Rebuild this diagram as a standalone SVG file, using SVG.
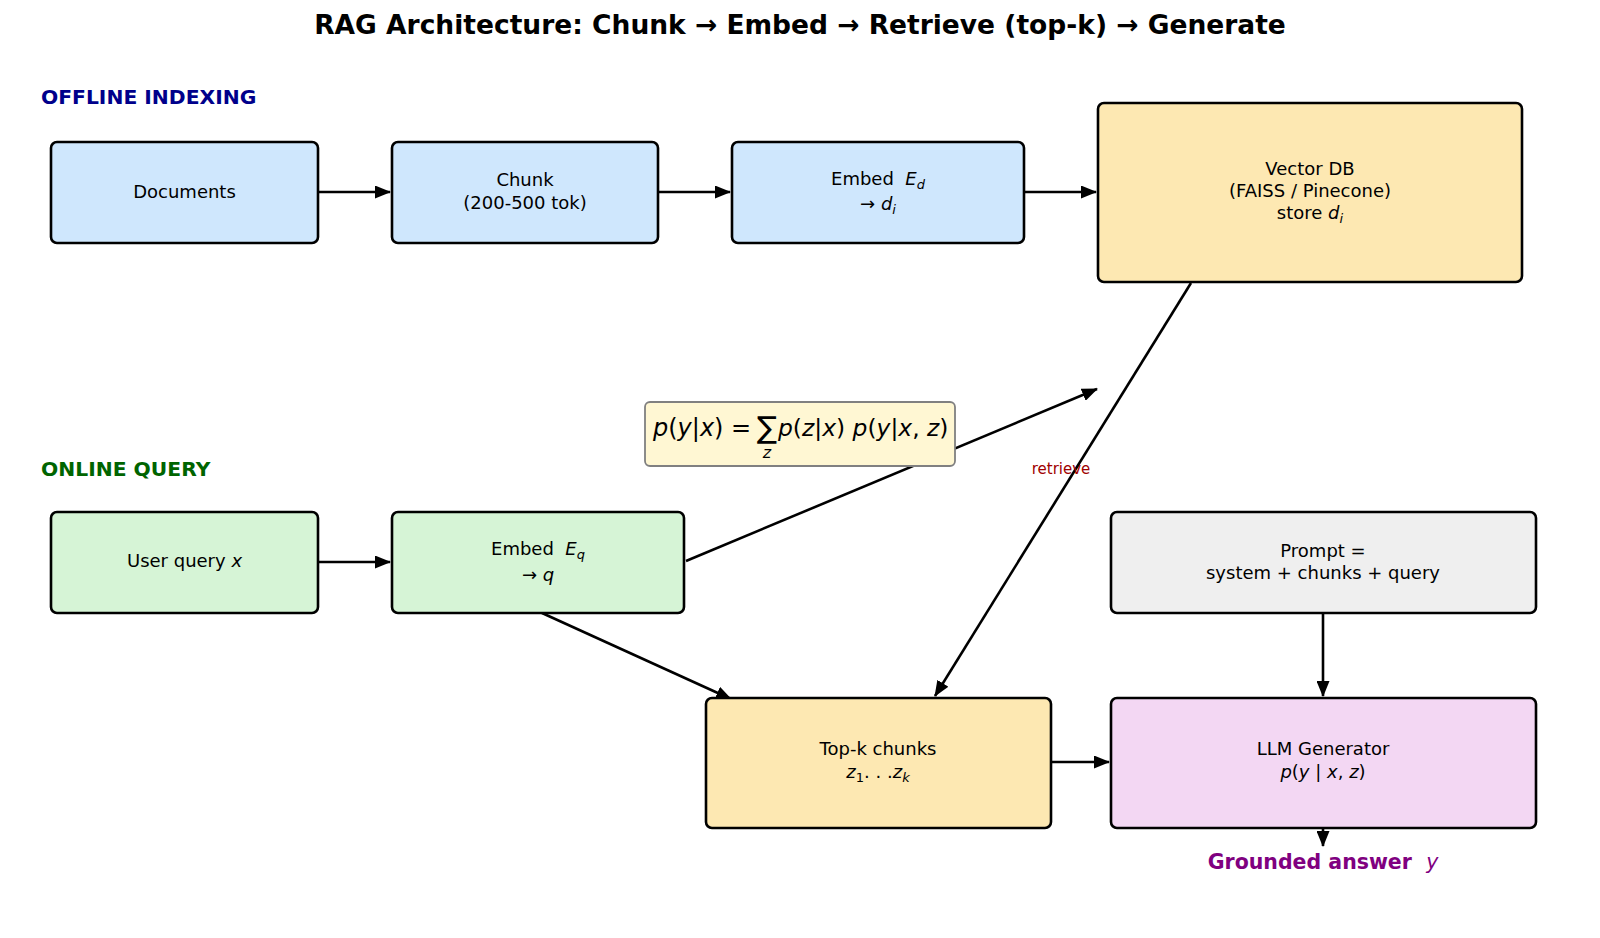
<svg xmlns="http://www.w3.org/2000/svg" width="1600" height="938" viewBox="0 0 1600 938">
<style>
text{font-family:"DejaVu Sans",sans-serif;fill:#000}
.t{font-size:18px;text-anchor:middle}
.i{font-style:italic}
.box{stroke:#000;stroke-width:2.6}
.edge{stroke:#000;stroke-width:2.6;fill:none}
.blue{fill:#cfe7fd}
.green{fill:#d6f4d6}
.yel{fill:#fde8b2}
.gray{fill:#efefef}
.pink{fill:#f3d7f3}
</style>
<defs>
<marker id="ah" markerUnits="userSpaceOnUse" markerWidth="16" markerHeight="13" refX="15" refY="6.5" orient="auto">
<path d="M0,0 L16,6.5 L0,13 z" fill="#000"/>
</marker>
</defs>
<rect width="1600" height="938" fill="#fff"/>
<text x="800" y="34" style="font-size:26.5px;font-weight:bold;text-anchor:middle">RAG Architecture: Chunk → Embed → Retrieve (top-k) → Generate</text>
<text x="41" y="104" style="font-size:20.3px;font-weight:bold;fill:#00008b">OFFLINE INDEXING</text>
<text x="41" y="476" style="font-size:20.3px;font-weight:bold;fill:#006400">ONLINE QUERY</text>

<g id="connectors">
<line class="edge" x1="318" y1="192" x2="390" y2="192" marker-end="url(#ah)"/>
<line class="edge" x1="658" y1="192" x2="730" y2="192" marker-end="url(#ah)"/>
<line class="edge" x1="1024" y1="192" x2="1096" y2="192" marker-end="url(#ah)"/>
<line class="edge" x1="318" y1="562" x2="390" y2="562" marker-end="url(#ah)"/>
<line class="edge" x1="542" y1="613" x2="731" y2="699" marker-end="url(#ah)"/>
<line class="edge" x1="686" y1="561" x2="1097" y2="389" marker-end="url(#ah)"/>
<line class="edge" x1="1191" y1="283" x2="935" y2="696" marker-end="url(#ah)"/>
<line class="edge" x1="1051" y1="762" x2="1109" y2="762" marker-end="url(#ah)"/>
<line class="edge" x1="1323" y1="613" x2="1323" y2="696" marker-end="url(#ah)"/>
<line class="edge" x1="1323" y1="828" x2="1323" y2="846" marker-end="url(#ah)"/>
<text x="1061" y="474" style="font-size:15px;fill:#a00000;text-anchor:middle">retrieve</text>
</g>

<g id="documents">
<rect class="box blue" x="51" y="142" width="267" height="101" rx="6"/>
<text class="t" x="184.5" y="198">Documents</text>
</g>
<g id="chunk">
<rect class="box blue" x="392" y="142" width="266" height="101" rx="6"/>
<text class="t" x="525" y="186">Chunk</text>
<text class="t" x="525" y="209">(200-500 tok)</text>
</g>
<g id="embed_d">
<rect class="box blue" x="732" y="142" width="292" height="101" rx="6"/>
<text class="t" x="878" y="185">Embed&#160; <tspan class="i">E</tspan><tspan class="i" style="font-size:13px" dy="4">d</tspan></text>
<text class="t" x="878" y="210">→ <tspan class="i">d</tspan><tspan class="i" style="font-size:13px" dy="4">i</tspan></text>
</g>
<g id="vectordb">
<rect class="box yel" x="1098" y="103" width="424" height="179" rx="6"/>
<text class="t" x="1310" y="175">Vector DB</text>
<text class="t" x="1310" y="197">(FAISS / Pinecone)</text>
<text class="t" x="1310" y="219">store <tspan class="i">d</tspan><tspan class="i" style="font-size:13px" dy="4">i</tspan></text>
</g>
<g id="formula">
<rect x="645" y="402" width="310" height="64" rx="5" fill="#fff7d3" stroke="#808080" stroke-width="1.8"/>
<text x="653" y="436" style="font-size:24px"><tspan class="i">p</tspan>(<tspan class="i">y</tspan>|<tspan class="i">x</tspan>) = </text>
<text x="767" y="438" style="font-size:30px;text-anchor:middle">∑</text>
<text x="767" y="458" class="i" style="font-size:16px;text-anchor:middle">z</text>
<text x="778" y="436" style="font-size:23.4px"><tspan class="i">p</tspan>(<tspan class="i">z</tspan>|<tspan class="i">x</tspan>) <tspan class="i">p</tspan>(<tspan class="i">y</tspan>|<tspan class="i">x</tspan>, <tspan class="i">z</tspan>)</text>
</g>
<g id="userquery">
<rect class="box green" x="51" y="512" width="267" height="101" rx="6"/>
<text class="t" x="184.5" y="567">User query <tspan class="i">x</tspan></text>
</g>
<g id="embed_q">
<rect class="box green" x="392" y="512" width="292" height="101" rx="6"/>
<text class="t" x="538" y="555">Embed&#160; <tspan class="i">E</tspan><tspan class="i" style="font-size:13px" dy="4">q</tspan></text>
<text class="t" x="538" y="581">→ <tspan class="i">q</tspan></text>
</g>
<g id="prompt">
<rect class="box gray" x="1111" y="512" width="425" height="101" rx="6"/>
<text class="t" x="1323" y="557">Prompt =</text>
<text class="t" x="1323" y="579">system + chunks + query</text>
</g>
<g id="topk">
<rect class="box yel" x="706" y="698" width="345" height="130" rx="6"/>
<text class="t" x="878" y="755">Top-k chunks</text>
<text class="t" x="878" y="778"><tspan class="i">z</tspan><tspan style="font-size:13px" dy="4">1</tspan><tspan dy="-4">. . .</tspan><tspan class="i">z</tspan><tspan class="i" style="font-size:13px" dy="4">k</tspan></text>
</g>
<g id="llm">
<rect class="box pink" x="1111" y="698" width="425" height="130" rx="6"/>
<text class="t" x="1323" y="755">LLM Generator</text>
<text class="t" x="1323" y="778"><tspan class="i">p</tspan>(<tspan class="i">y</tspan> | <tspan class="i">x</tspan>, <tspan class="i">z</tspan>)</text>
</g>
<g id="answer">
<text x="1323" y="869" style="font-size:20.5px;font-weight:bold;fill:#800080;text-anchor:middle">Grounded answer&#160; <tspan style="font-weight:normal;font-style:italic">y</tspan></text>
</g>
</svg>
